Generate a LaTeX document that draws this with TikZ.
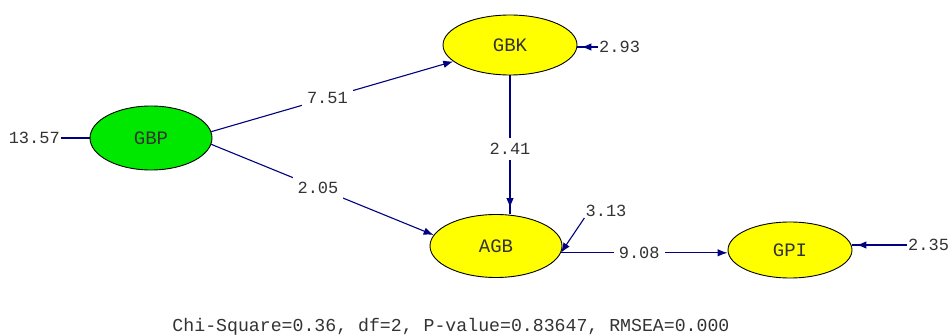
\documentclass[tikz,border=0pt]{standalone}
\usepackage{fontspec}
\setmonofont{Liberation Mono}
\usetikzlibrary{arrows.meta,shapes.geometric,decorations.markings}
\definecolor{lnavy}{RGB}{0,0,128}
\definecolor{lgreen}{RGB}{0,232,0}
\definecolor{lyellow}{RGB}{255,255,0}
\tikzset{
  lat/.style={ellipse, draw=black, line width=0.9pt, inner sep=0pt,
    font=\ttfamily\fontsize{19}{19}\selectfont, text=black!80},
  num/.style={font=\ttfamily\fontsize{17}{17}\selectfont, text=black!80, inner sep=1pt},
  conn/.style={draw=lnavy, line width=1.1pt},
  tipped/.style={conn, -{Latex[length=10pt,width=7.5pt]}},
  gaptip/.style={conn, postaction={decorate, decoration={markings,
      mark=at position -#1 with {\arrow{Latex[length=10pt,width=7.5pt]}}}}},
  lbl/.style={num, fill=white, inner sep=5pt}
}
\begin{document}
\begin{tikzpicture}[x=1pt,y=-1pt]
\path[use as bounding box, fill=white] (0,0) rectangle (949,336);

% latent variables
\node[lat, fill=lgreen, minimum width=122pt, minimum height=64pt] (GBP) at (151,138) {GBP};
\node[lat, fill=lyellow, minimum width=134pt, minimum height=60pt] (GBK) at (510,45) {GBK};
\node[lat, fill=lyellow, minimum width=132pt, minimum height=63pt] (AGB) at (496,246) {AGB};
\node[lat, fill=lyellow, minimum width=124pt, minimum height=56pt] (GPI) at (790,250) {GPI};

% error terms
\node[num, anchor=east] (eGBP) at (61,138) {13.57};
\node[num, anchor=west] (eGBK) at (598,47) {2.93};
\node[num] (eAGB) at (606,211) {3.13};
\node[num, anchor=west] (eGPI) at (907,245) {2.35};

\coordinate (agbR) at (AGB.-6);

\draw[conn] (eGBP.east) -- (eGBP.east -| GBP.west);
\draw[gaptip=4pt] (eGBK.west) -- (eGBK.west -| GBK.east);
\draw[tipped] (eAGB.south west) -- (agbR);
\draw[gaptip=4pt] (eGPI.west) -- (eGPI.west -| GPI.east);

% structural paths
\draw[tipped] (GBP.6) -- node[lbl, pos=0.48] {7.51} (GBK);
\draw[tipped] (GBP.-6) -- node[lbl, pos=0.48] {2.05} (AGB.170);
\draw[gaptip=6pt] (GBK.south) -- node[lbl, pos=0.53] {2.41} (GBK.south |- AGB.north);
\draw[tipped] (agbR) -- node[lbl, pos=0.47] {9.08} (agbR -| GPI.west);

% fit statistics
\node[num, font=\ttfamily\fontsize{18.2}{18.2}\selectfont] (fit) at (451,327)
  {Chi-Square=0.36, df=2, P-value=0.83647, RMSEA=0.000};
\end{tikzpicture}
\end{document}
